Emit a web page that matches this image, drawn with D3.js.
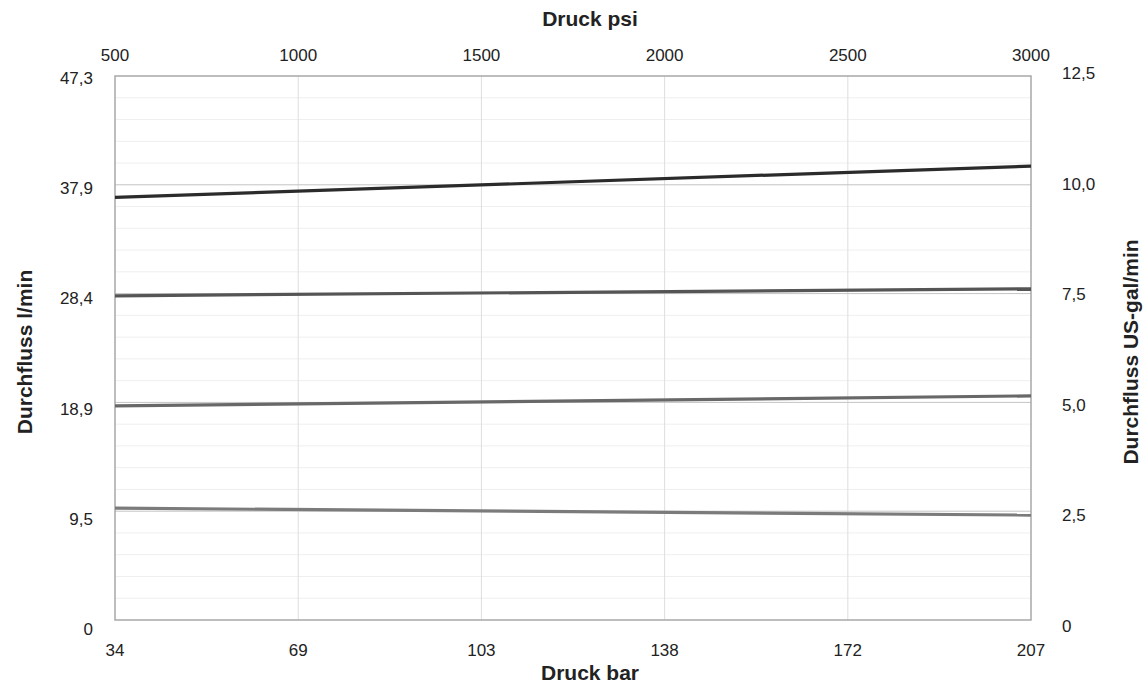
<!DOCTYPE html>
<html>
<head>
<meta charset="utf-8">
<script src="https://cdn.jsdelivr.net/npm/d3@7"></script>
<style>
  body { margin: 0; background: #fff; }
  svg text { font-family: "Liberation Sans", Arial, sans-serif; fill: #222; }
</style>
</head>
<body>
<div id="chart"></div>
<script>
// pressure in psi at both ends of each curve
const psi = [500, 3000];
// flow in US-gal/min
const seriesA = [9.71, 10.43];
const seriesB = [7.45, 7.61];
const seriesC = [4.92, 5.15];
const seriesD = [2.57, 2.41];
const seriesColors = ['#2b2b2b', '#555555', '#686868', '#7b7b7b'];

const psiTicks = [500, 1000, 1500, 2000, 2500, 3000];
const barLabels = ['34', '69', '103', '138', '172', '207'];
const galTicks = [0, 2.5, 5, 7.5, 10, 12.5];
const galLabels = ['0', '2,5', '5,0', '7,5', '10,0', '12,5'];
const lpmLabels = ['0', '9,5', '18,9', '28,4', '37,9', '47,3'];

const W = 1146, H = 684;
const m = { top: 76, right: 115, bottom: 64, left: 115 };
const tickSize = 17, titleSize = 21;

const svg = d3.select('#chart').append('svg')
    .attr('width', W)
    .attr('height', H);

const x = d3.scaleLinear().domain([500, 3000]).range([m.left, W - m.right]);
const y = d3.scaleLinear().domain([0, 12.5]).range([H - m.bottom, m.top]);
// tick label baselines sit a bit lower than the gridlines
const yLeftLab = d3.scaleLinear().domain([0, 12.5]).range([H - m.bottom + 15, m.top + 8]);
const yRightLab = d3.scaleLinear().domain([0, 12.5]).range([H - m.bottom + 12, m.top + 3]);

// minor horizontal grid
const minor = d3.range(0.5, 12.5, 0.5).filter(v => Math.abs(v / 2.5 - Math.round(v / 2.5)) > 1e-6);
svg.append('g').selectAll('line')
    .data(minor)
    .join('line')
    .attr('x1', x(500)).attr('x2', x(3000))
    .attr('y1', d => y(d)).attr('y2', d => y(d))
    .attr('stroke', '#efefef')
    .attr('stroke-width', 1);

// vertical grid
svg.append('g').selectAll('line')
    .data(psiTicks.slice(1, -1))
    .join('line')
    .attr('x1', d => x(d)).attr('x2', d => x(d))
    .attr('y1', y(0)).attr('y2', y(12.5))
    .attr('stroke', '#dedede')
    .attr('stroke-width', 1);

// major horizontal grid
svg.append('g').selectAll('line')
    .data(galTicks.slice(1, -1))
    .join('line')
    .attr('x1', x(500)).attr('x2', x(3000))
    .attr('y1', d => y(d)).attr('y2', d => y(d))
    .attr('stroke', '#c4c4c4')
    .attr('stroke-width', 1);

// frame
svg.append('rect')
    .attr('x', x(500)).attr('y', y(12.5))
    .attr('width', x(3000) - x(500))
    .attr('height', y(0) - y(12.5))
    .attr('fill', 'none')
    .attr('stroke', '#a8a8a8')
    .attr('stroke-width', 1.5);

// curves
const series = [seriesA, seriesB, seriesC, seriesD];
const line = d3.line().x(d => x(d[0])).y(d => y(d[1]));
svg.append('g').selectAll('path')
    .data(series)
    .join('path')
    .attr('d', s => line(psi.map((p, i) => [p, s[i]])))
    .attr('fill', 'none')
    .attr('stroke', (s, i) => seriesColors[i])
    .attr('stroke-width', 3.2);

// top axis labels (psi)
svg.append('g').selectAll('text')
    .data(psiTicks)
    .join('text')
    .attr('x', d => x(d))
    .attr('y', 61)
    .attr('text-anchor', 'middle')
    .attr('font-size', tickSize)
    .text(d => d);

// bottom axis labels (bar)
svg.append('g').selectAll('text')
    .data(psiTicks)
    .join('text')
    .attr('x', d => x(d))
    .attr('y', 656)
    .attr('text-anchor', 'middle')
    .attr('font-size', tickSize)
    .text((d, i) => barLabels[i]);

// left labels (l/min)
svg.append('g').selectAll('text')
    .data(galTicks)
    .join('text')
    .attr('x', 93)
    .attr('y', d => yLeftLab(d))
    .attr('text-anchor', 'end')
    .attr('font-size', tickSize)
    .text((d, i) => lpmLabels[i]);

// right labels (gal/min)
svg.append('g').selectAll('text')
    .data(galTicks)
    .join('text')
    .attr('x', 1062)
    .attr('y', d => yRightLab(d))
    .attr('text-anchor', 'start')
    .attr('font-size', tickSize)
    .text((d, i) => galLabels[i]);

// axis titles (slightly right of plot centre, as in the original)
const titleX = 590;
svg.append('text')
    .attr('x', titleX).attr('y', 26)
    .attr('text-anchor', 'middle')
    .attr('font-size', titleSize).attr('font-weight', 'bold')
    .text('Druck psi');

svg.append('text')
    .attr('x', titleX).attr('y', 680)
    .attr('text-anchor', 'middle')
    .attr('font-size', titleSize).attr('font-weight', 'bold')
    .text('Druck bar');

const titleY = 352;
svg.append('text')
    .attr('transform', `translate(32,${titleY}) rotate(-90)`)
    .attr('text-anchor', 'middle')
    .attr('font-size', titleSize).attr('font-weight', 'bold')
    .text('Durchfluss l/min');

svg.append('text')
    .attr('transform', `translate(1138,${titleY}) rotate(-90)`)
    .attr('text-anchor', 'middle')
    .attr('font-size', titleSize).attr('font-weight', 'bold')
    .text('Durchfluss US-gal/min');
</script>
</body>
</html>
